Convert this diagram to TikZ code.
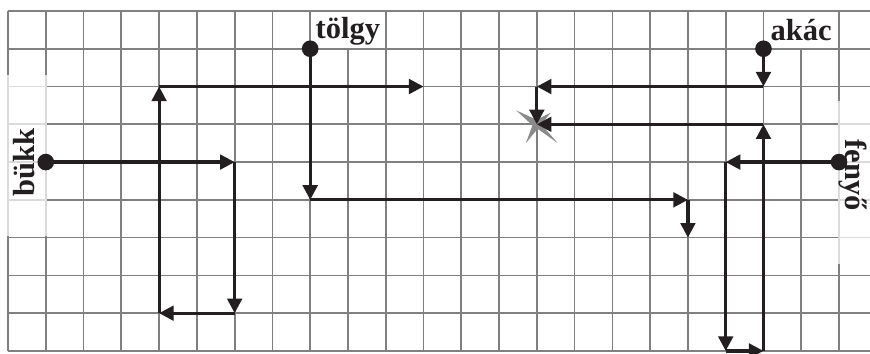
\documentclass[tikz,border=0pt]{standalone}
\usepackage{fontspec}
\setmainfont{Liberation Serif}
\usetikzlibrary{arrows.meta}
\definecolor{gridgray}{RGB}{128,128,128}
\definecolor{ink}{RGB}{35,31,32}
\definecolor{stargray}{RGB}{138,138,138}
\begin{document}
\begin{tikzpicture}[x=1cm,y=1cm,
  gridline/.style={draw=gridgray,line width=1.3pt},
  arr/.style={draw=ink,line width=2.4pt,-{Triangle[length=11pt,width=11pt]}},
  dot/.style={circle,fill=ink,inner sep=0pt,minimum size=0.44cm},
  lbl/.style={font=\fontsize{23}{23}\selectfont\bfseries,text=ink,inner sep=0pt},
  lblbox/.style={fill=white},
  softbox/.style={fill=white,fill opacity=0.72}]
\useasboundingbox (-0.212,-0.08) rectangle (22.82,9.291);
% grid
\foreach \i in {0,...,22} \draw[gridline] (\i,0) -- (\i,9);
\foreach \j in {0,...,9} \draw[gridline] (0,\j) -- (22.82,\j);
% label backgrounds
\fill[lblbox] (8.03,8.03) rectangle (9.97,8.97);
\fill[lblbox] (20.03,8.03) rectangle (21.97,8.97);
\fill[softbox] (-0.04,3.05) rectangle (1.04,7.3);
\fill[softbox] (21.96,2.3) rectangle (22.9,6.63);
% labels
\node[lbl,rotate=90] (bukk) at (0.42,5) {bükk};
\node[lbl,rotate=-90] (fenyo) at (22.36,4.66) {fenyő};
\node[lbl] (tolgy) at (9,8.47) {tölgy};
\node[lbl] (akac) at (21,8.5) {akác};
% corner points
\coordinate (b1) at (6,5);
\coordinate (b2) at (6,1);
\coordinate (b3) at (4,1);
\coordinate (b4) at (4,7);
\coordinate (b5) at (11,7);
\coordinate (t1) at (8,4);
\coordinate (t2) at (18,4);
\coordinate (t3) at (18,3);
\coordinate (a1) at (20,7);
\coordinate (a2) at (14,7);
\coordinate (f1) at (19,5);
\coordinate (f2) at (19,0);
\coordinate (f3) at (20,0);
\coordinate (f4) at (20,6);
\coordinate (star) at (14,6);
% star
\begin{scope}[shift={(star)}]
\fill[stargray] (146:0.66) -- (193:0.12) -- (240:0.58) -- (279:0.12)
  -- (318:0.74) -- (359:0.12) -- (40:0.48) -- (93:0.12) -- cycle;
\end{scope}
% start dots
\node[dot] (b0) at (1,5) {};
\node[dot] (t0) at (8,8) {};
\node[dot] (a0) at (20,8) {};
\node[dot] (f0) at (22,5) {};
% bukk path
\draw[arr] (b0.center) -- (b1);
\draw[arr] (b1) -- (b2);
\draw[arr] (b2) -- (b3);
\draw[arr] (b3) -- (b4);
\draw[arr] (b4) -- (b5);
% tolgy path
\draw[arr] (t0.center) -- (t1);
\draw[arr] (t1) -- (t2);
\draw[arr] (t2) -- (t3);
% akac path
\draw[arr] (a0.center) -- (a1);
\draw[arr] (a1) -- (a2);
\draw[arr] (a2) -- (star);
% fenyo path
\draw[arr] (f0.center) -- (f1);
\draw[arr] (f1) -- (f2);
\draw[arr] (f2) -- (f3);
\draw[arr] (f3) -- (f4);
\draw[arr] (f4) -- (star);
\end{tikzpicture}
\end{document}
